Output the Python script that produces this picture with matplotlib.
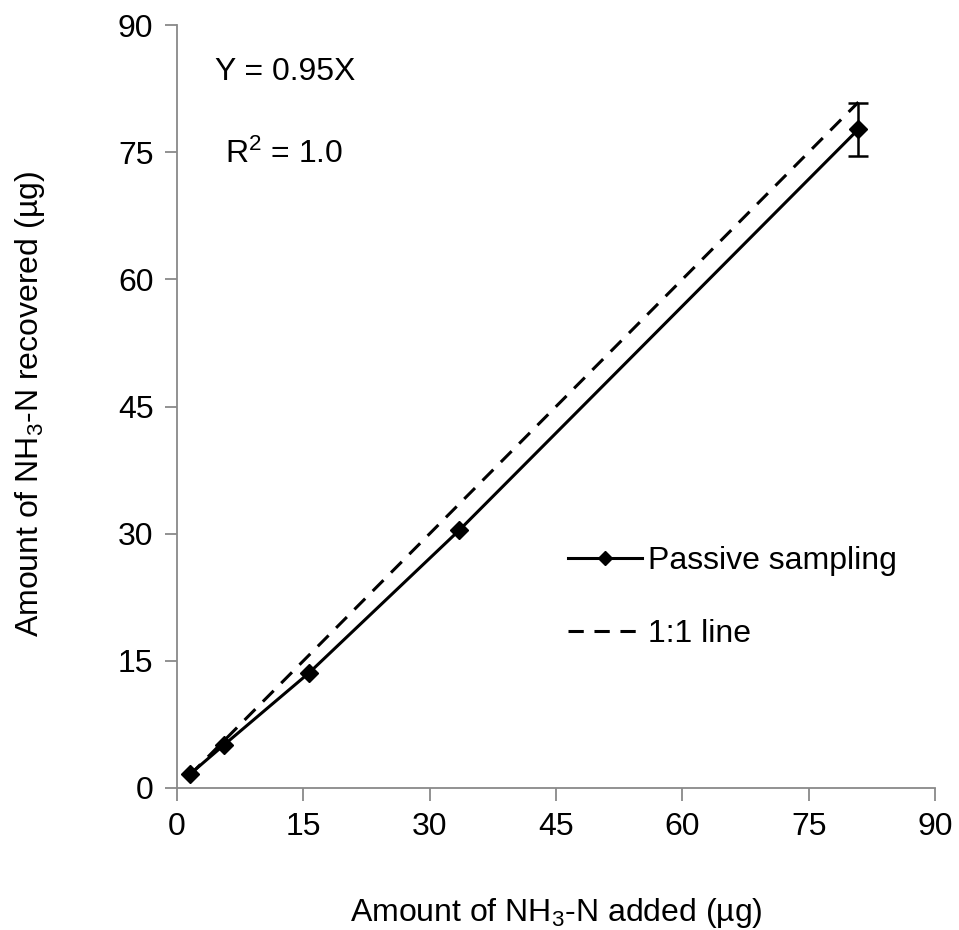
import numpy as np
import matplotlib
matplotlib.use("Agg")
import matplotlib.pyplot as plt

plt.rcParams['font.family'] = ['Liberation Sans', 'DejaVu Sans']
plt.rcParams['mathtext.fontset'] = 'custom'
plt.rcParams['mathtext.rm'] = 'Liberation Sans'
plt.rcParams['mathtext.it'] = 'Liberation Sans:italic'

# NH3-N added vs recovered (ug)
added = np.array([1.5, 5.6, 15.7, 33.5, 80.9])
recovered = np.array([1.6, 5.1, 13.6, 30.4, 77.7])
err = np.array([0.0, 0.0, 0.0, 0.0, 3.1])
ticks = [0, 15, 30, 45, 60, 75, 90]

fig = plt.figure(figsize=(9.59, 9.30), dpi=100)
ax = fig.add_axes([0.1846, 0.1527, 0.7904, 0.8204])

fs = 23
has_err = err > 0
ax.errorbar(added[has_err], recovered[has_err], yerr=err[has_err], fmt='none',
            ecolor='black', capsize=7, capthick=1.8, elinewidth=1.8)
ax.plot(added, recovered, color='black', lw=2.2, marker='D', ms=9,
        label='Passive sampling')
ax.plot(added[[0, -1]], added[[0, -1]], color='black', lw=2.2,
        dashes=(5, 3.5), label='1:1 line')

ax.set_xlim(0, 90)
ax.set_ylim(0, 90)
ax.set_xticks(ticks)
ax.set_yticks(ticks)
for s in ['top', 'right']:
    ax.spines[s].set_visible(False)
for s in ['left', 'bottom']:
    ax.spines[s].set_color('#898989')
    ax.spines[s].set_linewidth(1.3)
ax.tick_params(direction='out', length=9, width=1.3, color='#898989',
               labelsize=fs, pad=8)

ax.set_xlabel('Amount of NH$_3$-N added (µg)', fontsize=fs)
ax.xaxis.set_label_coords(0.5, -0.142)
ax.set_ylabel('Amount of NH$_3$-N recovered (µg)', fontsize=fs)
ax.yaxis.set_label_coords(-0.172, 0.503)

ax.text(4.5, 84.5, 'Y = 0.95X', fontsize=fs, va='center')
ax.text(5.7, 74.8, 'R$^2$ = 1.0', fontsize=fs, va='center')

leg = ax.legend(loc='center left', bbox_to_anchor=(0.478, 0.25), frameon=False,
                fontsize=fs, handlelength=2.3, handletextpad=0.2, labelspacing=1.35,
                numpoints=1)
for h in leg.legend_handles:
    h.set_markersize(7)

fig.savefig('out.png', dpi=100)
